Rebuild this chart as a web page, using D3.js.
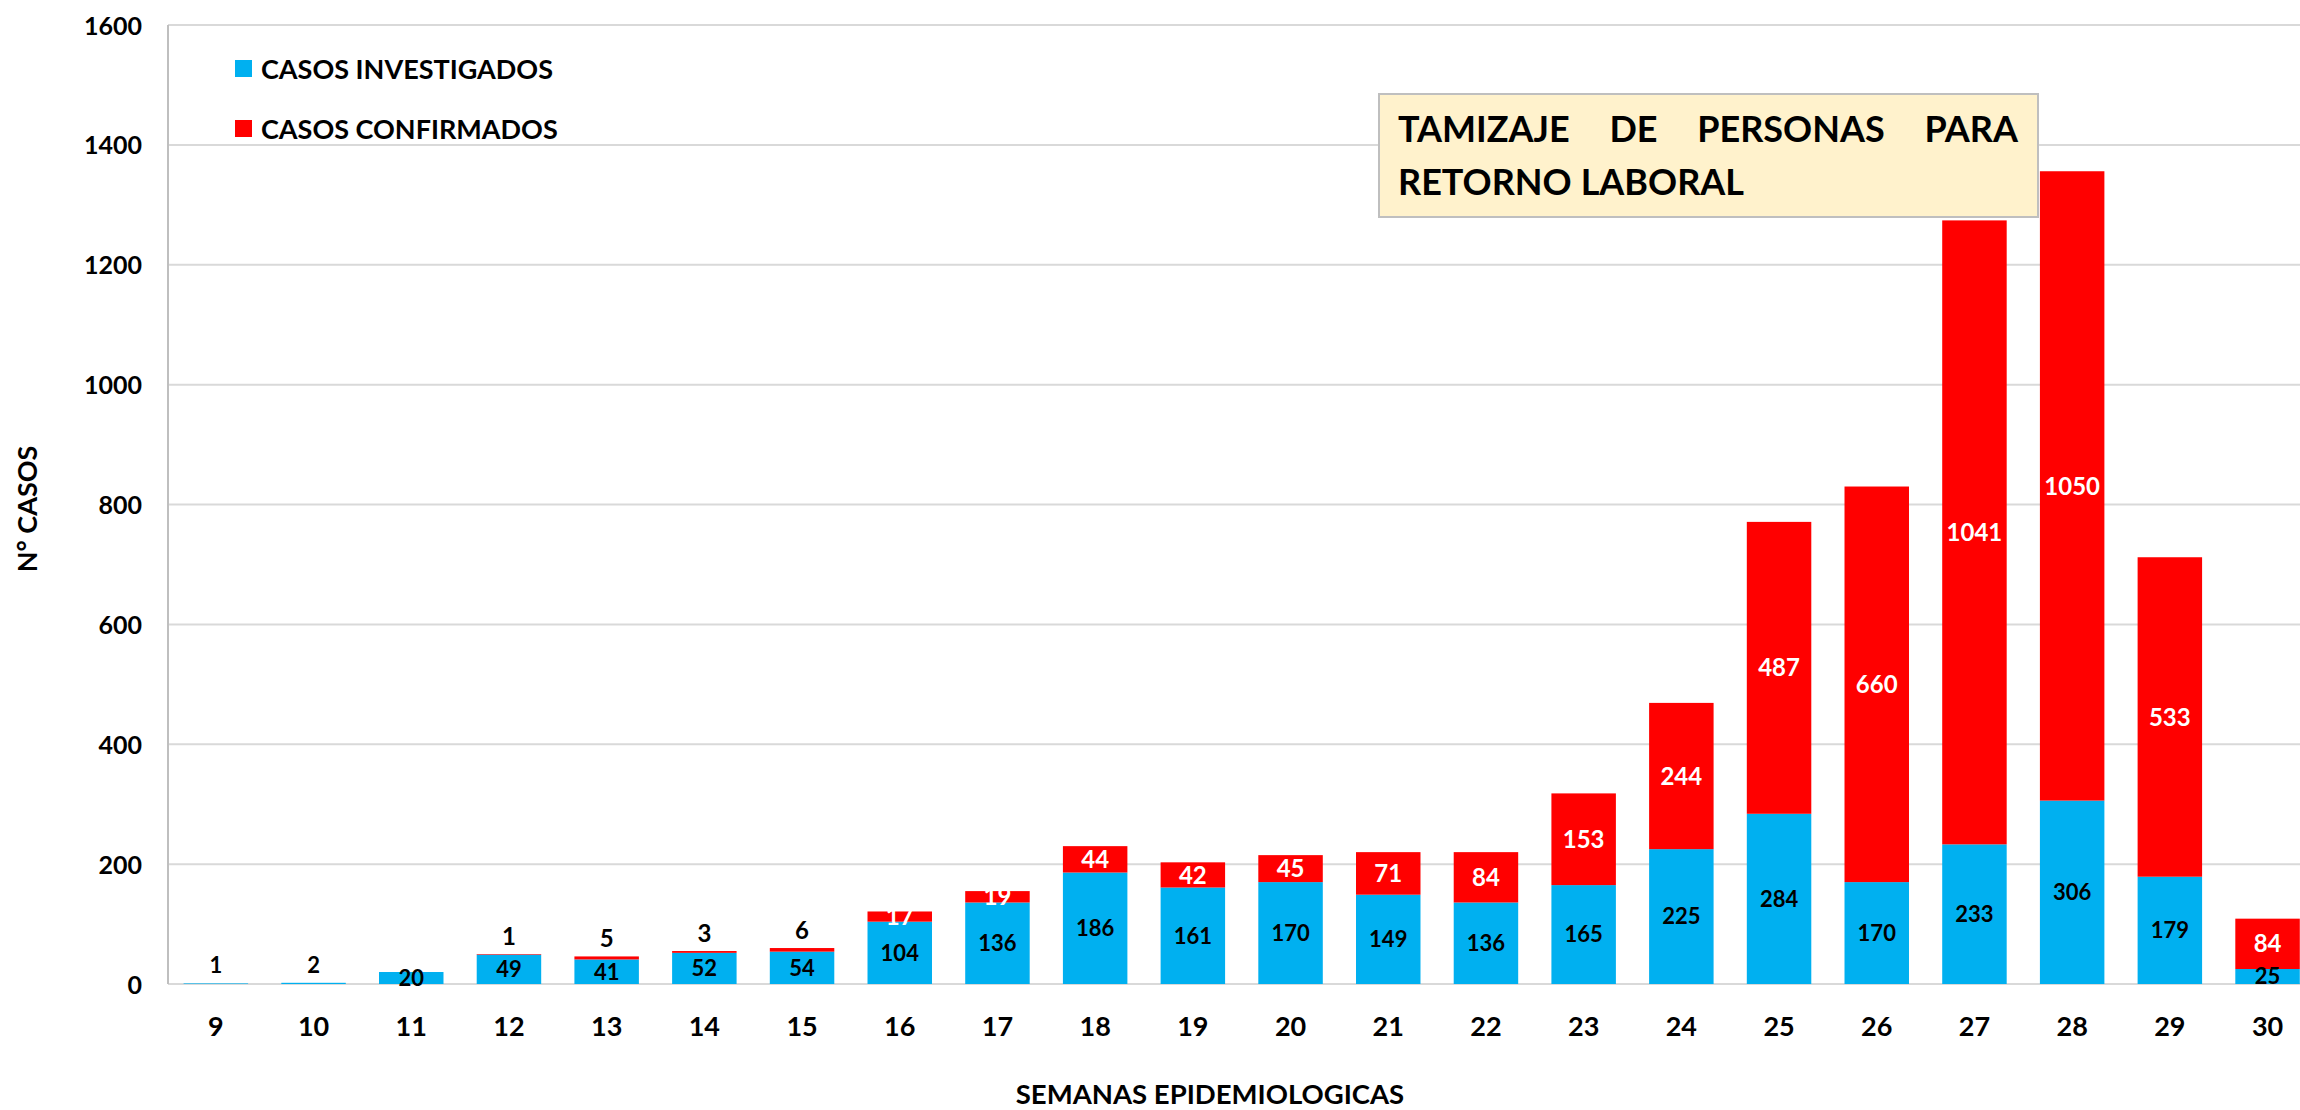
<!DOCTYPE html>
<html>
<head>
<meta charset="utf-8">
<script src="https://cdn.jsdelivr.net/npm/d3@7"></script>
<style>
  html, body { margin: 0; padding: 0; background: #fff; }
  svg { display: block; font-family: Lato, "Open Sans", sans-serif; font-weight: bold; }
</style>
</head>
<body>
<svg id="chart" width="2300" height="1110"></svg>
<script>
// ---- data ----
const weeks = ["9","10","11","12","13","14","15","16","17","18","19","20","21","22","23","24","25","26","27","28","29","30"];
const investigados = [1, 2, 20, 49, 41, 52, 54, 104, 136, 186, 161, 170, 149, 136, 165, 225, 284, 170, 233, 306, 179, 25];
const confirmados  = [0, 0, 0, 1, 5, 3, 6, 17, 19, 44, 42, 45, 71, 84, 153, 244, 487, 660, 1041, 1050, 533, 84];
const yTicks = [0, 200, 400, 600, 800, 1000, 1200, 1400, 1600];
const seriesNames = ["CASOS INVESTIGADOS", "CASOS CONFIRMADOS"];
const seriesKeys = ["inv", "conf"];
const seriesColors = ["#00b0f0", "#ff0000"];
const titleLines = [["TAMIZAJE", "DE", "PERSONAS", "PARA"], ["RETORNO", "LABORAL"]];
const xTitle = "SEMANAS EPIDEMIOLOGICAS";
const yTitle = "N° CASOS";

(function () {
const rows = weeks.map((w, i) => ({ week: w, inv: investigados[i], conf: confirmados[i] }));

const svg = d3.select("#chart");
const plotLeft = 168, plotTop = 25, plotBottom = 984;

const x = d3.scaleBand().domain(weeks).range([167, 167 + 22 * 97.7]).paddingInner(0.34).paddingOuter(0.17);
const y = d3.scaleLinear().domain([0, 1600]).range([plotBottom, plotTop]);

// gridlines
svg.append("g").selectAll("line").data(yTicks).join("line")
  .attr("x1", plotLeft).attr("x2", 2300)
  .attr("y1", d => y(d)).attr("y2", d => y(d))
  .attr("stroke", "#d9d9d9").attr("stroke-width", 2);

// y axis line
svg.append("line").attr("x1", plotLeft).attr("x2", plotLeft).attr("y1", plotTop).attr("y2", plotBottom)
  .attr("stroke", "#bfbfbf").attr("stroke-width", 2);

// y tick labels
const yAxis = d3.axisLeft(y).tickValues(yTicks).tickFormat(d3.format("d")).tickSize(0).tickPadding(0);
const gy = svg.append("g").attr("transform", "translate(142,0)").call(yAxis);
gy.select(".domain").remove();
gy.selectAll("text").attr("font-size", 25).attr("font-family", "Lato").attr("font-weight", "bold")
  .attr("fill", "#000").attr("dy", "0.36em");

// x tick labels
const xAxis = d3.axisBottom(x).tickSize(0).tickPadding(0);
const gx = svg.append("g").attr("transform", "translate(0,1016)").call(xAxis);
gx.select(".domain").remove();
gx.selectAll("text").attr("font-size", 27).attr("font-family", "Lato").attr("font-weight", "bold")
  .attr("fill", "#000").attr("dy", "0.36em").attr("y", 10);

// stacked bars
const stack = d3.stack().keys(seriesKeys);
const stacked = stack(rows);
const layers = svg.append("g").selectAll("g").data(stacked).join("g")
  .attr("fill", (d, i) => seriesColors[i]);
layers.selectAll("rect").data(d => d).join("rect")
  .attr("x", d => x(d.data.week))
  .attr("width", x.bandwidth())
  .attr("y", d => y(d[1]))
  .attr("height", d => Math.max(0, y(d[0]) - y(d[1])));

// data labels
const lbl = svg.append("g").attr("font-family", "Lato").attr("font-weight", "bold").attr("text-anchor", "middle");
stacked.forEach((layer, li) => {
  layer.forEach(d => {
    const v = d[1] - d[0];
    if (v <= 0) return;
    const h = y(d[0]) - y(d[1]);
    const cx = x(d.data.week) + x.bandwidth() / 2;
    let cy, fill;
    if (h < 8) { cy = y(d[1]) - 18; fill = "#000"; }
    else { cy = (y(d[0]) + y(d[1])) / 2; fill = li === 0 ? "#000" : "#fff"; }
    lbl.append("text").attr("x", cx).attr("y", cy).attr("dy", "0.36em")
      .attr("font-size", li === 0 ? 22 : 24).attr("fill", fill).text(v);
  });
});

// legend
const leg = svg.append("g");
seriesNames.forEach((name, i) => {
  const cy = 69 + i * 60;
  leg.append("rect").attr("x", 235).attr("y", cy - 9).attr("width", 17).attr("height", 17).attr("fill", seriesColors[i]);
  leg.append("text").attr("x", 261).attr("y", cy).attr("dy", "0.36em")
    .attr("font-size", 27).attr("fill", "#000").text(name);
});

// title box
const box = svg.append("g");
box.append("rect").attr("x", 1379).attr("y", 94).attr("width", 659).attr("height", 123)
  .attr("fill", "#fff2cc").attr("stroke", "#bfbfbf").attr("stroke-width", 2);
const tx0 = 1398, tx1 = 2018;
titleLines.forEach((words, li) => {
  const base = 142 + li * 53;
  const nodes = words.map(w => box.append("text").attr("y", base).attr("font-size", 36).attr("fill", "#000").text(w));
  if (li === 0) {
    const widths = nodes.map(n => n.node().getComputedTextLength());
    const total = d3.sum(widths);
    const gap = (tx1 - tx0 - total) / (words.length - 1);
    let cx = tx0;
    nodes.forEach((n, k) => { n.attr("x", cx); cx += widths[k] + gap; });
  } else {
    const sp = 9;
    let cx = tx0;
    nodes.forEach(n => { n.attr("x", cx); cx += n.node().getComputedTextLength() + sp; });
  }
});

// axis titles
svg.append("text").attr("x", 1210).attr("y", 1094).attr("dy", "0.36em").attr("text-anchor", "middle")
  .attr("font-size", 27.5).attr("fill", "#000").text(xTitle);
svg.append("text").attr("transform", "translate(27,509) rotate(-90)").attr("dy", "0.36em")
  .attr("text-anchor", "middle").attr("font-size", 27).attr("fill", "#000").text(yTitle);
})();
</script>
</body>
</html>
